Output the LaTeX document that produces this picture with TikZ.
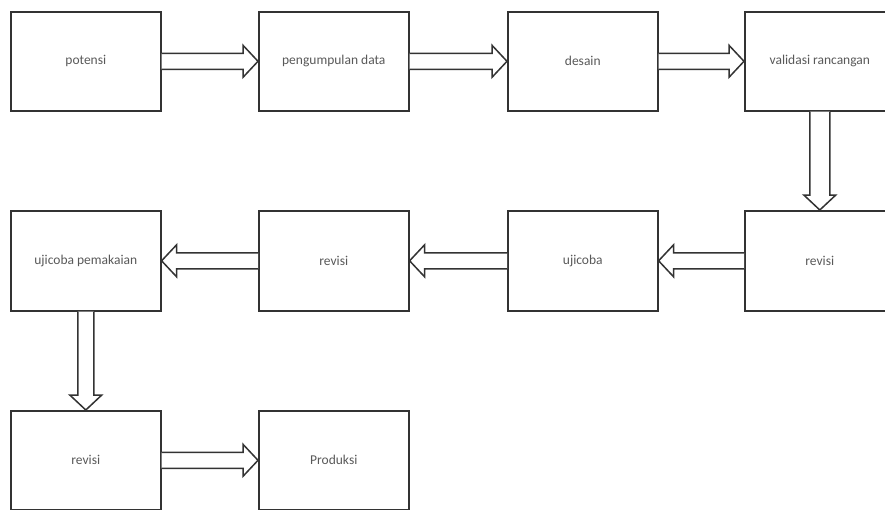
\documentclass[tikz,border=0pt]{standalone}
\usepackage{fontspec}
\setmainfont{Carlito}
\usetikzlibrary{calc}
\tikzset{
  box/.style={draw=black!80, line width=1.6pt, fill=white, minimum width=150pt, minimum height=99pt,
              inner sep=0pt, anchor=north west, text=black!65, font=\fontsize{13.5}{16}\selectfont},
  blk/.style={draw=black!80, line width=1.5pt, fill=white, line join=miter}
}
\newcommand\arrowR[3][8]{\draw[blk] let \p1=(#2.east), \p2=(#3.west) in
  (\x1,\y1+#1) -- (\x2-15,\y1+#1) -- (\x2-15,\y1+16) -- (\x2,\y1) -- (\x2-15,\y1-16) -- (\x2-15,\y1-#1) -- (\x1,\y1-#1);}
\newcommand\arrowL[3][8]{\draw[blk] let \p1=(#2.west), \p2=(#3.east) in
  (\x1,\y1+#1) -- (\x2+15,\y1+#1) -- (\x2+15,\y1+16) -- (\x2,\y1) -- (\x2+15,\y1-16) -- (\x2+15,\y1-#1) -- (\x1,\y1-#1);}
\newcommand\arrowD[3][8]{\draw[blk] let \p1=(#2.south), \p2=(#3.north) in
  (\x1-#1,\y1) -- (\x1-#1,\y2+15) -- (\x1-16,\y2+15) -- (\x1,\y2) -- (\x1+16,\y2+15) -- (\x1+#1,\y2+15) -- (\x1+#1,\y1);}
\begin{document}
\begin{tikzpicture}[x=1pt,y=-1pt]
\useasboundingbox (0,0) rectangle (885,509);
\clip (0,0) rectangle (885,509);
\fill[white] (0,0) rectangle (885,509);
% row 1
\node[box] (potensi) at (10,11) {potensi};
\node[box] (pengumpulan) at (258,11) {pengumpulan data};
\node[box] (desain) at (507,11) {desain};
\node[box] (validasi) at (744,11) {validasi rancangan};
% row 2
\node[box, minimum height=100pt] (revisiA) at (744,210) {revisi};
\node[box, minimum height=100pt] (ujicoba) at (507,210) {ujicoba};
\node[box, minimum height=100pt] (revisiB) at (258,210) {revisi};
\node[box, minimum height=100pt] (pemakaian) at (10,210) {ujicoba pemakaian};
% row 3
\node[box] (revisiC) at (10,410) {revisi};
\node[box] (produksi) at (258,410) {Produksi};
% arrows
\arrowR{potensi}{pengumpulan}
\arrowR{pengumpulan}{desain}
\arrowR{desain}{validasi}
\arrowD[10]{validasi}{revisiA}
\arrowL{revisiA}{ujicoba}
\arrowL{ujicoba}{revisiB}
\arrowL{revisiB}{pemakaian}
\arrowD{pemakaian}{revisiC}
\arrowR{revisiC}{produksi}
\end{tikzpicture}
\end{document}
